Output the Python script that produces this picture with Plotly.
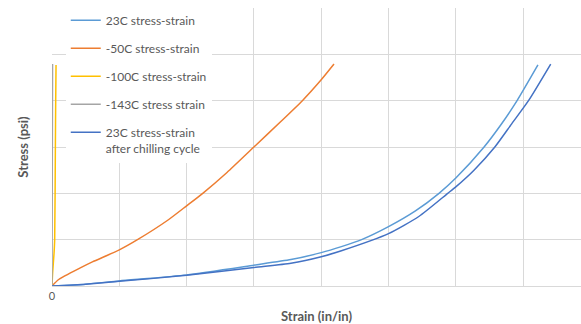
import plotly.graph_objects as go

# Strain (x) in grid units, stress (y) in grid units
strain_23 = [0, 0.5, 1.0, 2.0, 3.0, 3.55, 4.0, 4.3, 4.6, 5.0, 5.4, 5.75, 6.0, 6.42, 6.67, 6.91, 7.22]
stress_23 = [0, 0.04, 0.11, 0.24, 0.45, 0.57, 0.72, 0.85, 1.0, 1.28, 1.62, 2.0, 2.33, 3.0, 3.48, 4.0, 4.77]

strain_m50 = [0, 0.1, 0.42, 0.6, 1.0, 1.27, 1.73, 2.0, 2.24, 2.6, 3.0, 3.4, 3.72, 4.0, 4.19]
stress_m50 = [0, 0.14, 0.39, 0.52, 0.78, 1.0, 1.43, 1.73, 2.0, 2.45, 3.0, 3.55, 4.0, 4.45, 4.79]

strain_m100 = [0, 0.01, 0.03, 0.04, 0.05, 0.055, 0.06]
stress_m100 = [0, 0.3, 0.7, 1.0, 3.0, 4.0, 4.77]

strain_m143 = [0, 0.004, 0.008]
stress_m143 = [0, 2.4, 4.79]

strain_23c = [0, 0.5, 1.0, 2.0, 3.0, 3.55, 4.0, 4.3, 5.0, 5.45, 5.88, 6.0, 6.27, 6.58, 6.83, 7.08, 7.41]
stress_23c = [0, 0.04, 0.10, 0.23, 0.40, 0.49, 0.63, 0.76, 1.13, 1.5, 2.0, 2.14, 2.5, 3.0, 3.5, 4.0, 4.79]

names = ["23C stress-strain", "-50C stress-strain", "-100C stress-strain",
         "-143C stress strain", "23C stress-strain<br>after chilling cycle"]
colors = ["#5B9BD5", "#ED7D31", "#FFC000", "#A5A5A5", "#4472C4"]

x_ticks = [0, 1, 2, 3, 4, 5, 6, 7]
x_ticktext = ["0", "", "", "", "", "", "", ""]
y_ticks = [0, 1, 2, 3, 4, 5, 6]

series = [
    (strain_23, stress_23),
    (strain_m50, stress_m50),
    (strain_m100, stress_m100),
    (strain_m143, stress_m143),
    (strain_23c, stress_23c),
]

fig = go.Figure()
for i, ((xs, ys), name, c) in enumerate(zip(series, names, colors)):
    fig.add_trace(go.Scatter(
        x=xs, y=ys, mode="lines", name=name, legendgroup=f"g{i}",
        line=dict(color=c, width=1.5, shape="spline", smoothing=0.6),
        hoverinfo="skip",
    ))

grid = "#D9D9D9"
txt = "#595959"
fig.update_layout(
    width=581, height=324,
    margin=dict(l=52, r=0, t=8, b=38),
    paper_bgcolor="white", plot_bgcolor="white",
    font=dict(family="Lato", size=12, color=txt),
    showlegend=True,
    legend=dict(
        x=0.026, y=1.007, xanchor="left", yanchor="top",
        bgcolor="white", borderwidth=0,
        font=dict(family="Lato", size=12, color=txt),
        tracegroupgap=9, valign="top",
    ),
    xaxis=dict(
        range=[0, 7.86], tickmode="array", tickvals=x_ticks, ticktext=x_ticktext,
        showgrid=True, gridcolor=grid, gridwidth=1, zeroline=False,
        showline=True, linecolor=grid, linewidth=1, ticks="",
        tickfont=dict(family="Lato", size=11, color=txt),
        title=dict(text="Strain (in/in)", standoff=12,
                   font=dict(family="Lato", size=13, color=txt, weight="bold")),
        automargin=False,
    ),
    yaxis=dict(
        range=[0, 6], tickmode="array", tickvals=y_ticks, showticklabels=False,
        showgrid=True, gridcolor=grid, gridwidth=1, zeroline=False,
        showline=False, ticks="",
        title=dict(text="Stress (psi)", standoff=19,
                   font=dict(family="Lato", size=13, color=txt, weight="bold")),
        automargin=False,
    ),
)

fig.write_html("out.html")
